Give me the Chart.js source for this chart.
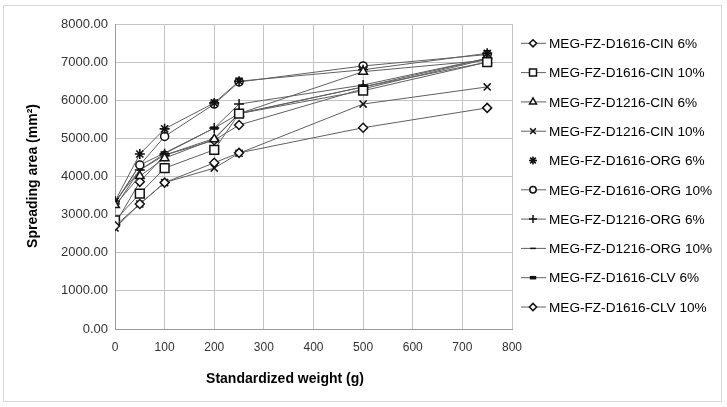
<!DOCTYPE html>
<html lang="en">
  <head>
    <meta charset="UTF-8" />
    <script src="https://cdn.jsdelivr.net/npm/chart.js"></script>
    <style>
      body { margin: 0; background: #fff; }
      #box {
        position: absolute; left: 3px; top: 5px;
        width: 717px; height: 395px;
        border: 1px solid #d9d9d9;
      }
    </style>
  </head>
  <body>
    <div id="box"><canvas id="spreadChart" width="717" height="395"></canvas></div>

    <script>
      // Standardized weight (g)
      const weights = [0, 50, 100, 200, 250, 500, 750];

      // Spreading area (mm²)
      const d1616Cin6 = [2700, 3280, 3840, 4360, 4620, 5280, 5800];
      const d1616Cin10 = [2850, 3550, 4220, 4700, 5650, 6250, 7000];
      const d1216Cin6 = [3250, 4010, 4480, 4980, 5650, 6750, 7050];
      const d1216Cin10 = [2650, 3280, 3840, 4220, 4610, 5900, 6350];
      const d1616Org6 = [3350, 4590, 5250, 5930, 6500, 6800, 7230];
      const d1616Org10 = [3300, 4300, 5050, 5900, 6480, 6900, 7200];
      const d1216Org6 = [3350, 4170, 4600, 5270, 5900, 6400, 7100];
      const d1216Org10 = [3200, 4170, 4560, 5000, 5650, 6350, 7100];
      const d1616Clv6 = [3300, 4300, 4620, 5270, 5650, 6350, 7000];
      const d1616Clv10 = [2750, 3860, 4560, 4950, 5350, 6300, 7080];

      const seriesNames = [
        "MEG-FZ-D1616-CIN 6%",
        "MEG-FZ-D1616-CIN 10%",
        "MEG-FZ-D1216-CIN 6%",
        "MEG-FZ-D1216-CIN 10%",
        "MEG-FZ-D1616-ORG 6%",
        "MEG-FZ-D1616-ORG 10%",
        "MEG-FZ-D1216-ORG 6%",
        "MEG-FZ-D1216-ORG 10%",
        "MEG-FZ-D1616-CLV 6%",
        "MEG-FZ-D1616-CLV 10%",
      ];
      const seriesValues = [
        d1616Cin6, d1616Cin10, d1216Cin6, d1216Cin10, d1616Org6,
        d1616Org10, d1216Org6, d1216Org10, d1616Clv6, d1616Clv10,
      ];

      const yTicks = [0, 1000, 2000, 3000, 4000, 5000, 6000, 7000, 8000];
      const xTicks = [0, 100, 200, 300, 400, 500, 600, 700, 800];

      // marker look per series
      const markers = [
        { style: "rectRot", r: 4.5, w: 1.5 },
        { style: "rect", r: 6.2, w: 1.5 },
        { style: "triangle", r: 5, w: 1.5 },
        { style: "crossRot", r: 5, w: 1.5 },
        { style: "star", r: 5, w: 1.6 },
        { style: "circle", r: 4, w: 1.5 },
        { style: "cross", r: 5, w: 1.5 },
        { style: "line", r: 3.5, w: 1.5 },
        { style: "line", r: 4, w: 3.5 },
        { style: "rectRot", r: 4.5, w: 1.5 },
      ];

      const datasets = seriesNames.map((name, i) => ({
        label: name,
        data: weights.map((w, k) => ({ x: w, y: seriesValues[i][k] })),
        showLine: true,
        borderColor: "#606060",
        borderWidth: 1,
        pointStyle: markers[i].style,
        pointRadius: markers[i].r,
        pointBorderWidth: markers[i].w,
        pointBorderColor: "#111",
        pointBackgroundColor: "#fff",
        pointHoverRadius: markers[i].r,
      }));

      // legend and axis titles drawn by hand
      const extras = {
        id: "extras",
        afterDraw(chart) {
          const c = chart.ctx;
          c.save();
          c.fillStyle = "#000";
          c.font = "bold 14px 'Liberation Sans', Arial, sans-serif";
          c.textAlign = "center";
          c.textBaseline = "middle";
          c.fillText("Standardized weight (g)", 281, 373);
          c.translate(29, 170);
          c.rotate(-Math.PI / 2);
          c.fillText("Spreading area (mm²)", 0, 0);
          c.restore();

          c.save();
          c.font = "13.6px 'Liberation Sans', Arial, sans-serif";
          c.textBaseline = "middle";
          chart.data.datasets.forEach((ds, i) => {
            const y = 37.3 + i * 29.3;
            if (i !== 4) {
              c.strokeStyle = "#606060";
              c.lineWidth = 1;
              c.beginPath();
              c.moveTo(517, y);
              c.lineTo(542, y);
              c.stroke();
            }
            c.strokeStyle = "#111";
            c.fillStyle = "#fff";
            c.lineWidth = markers[i].w;
            Chart.helpers.drawPoint(c, { pointStyle: markers[i].style, radius: markers[i].r * 0.8, rotation: 0, borderWidth: markers[i].w }, 529, y);
            c.fillStyle = "#000";
            c.fillText(ds.label, 545, y + 1);
          });
          c.restore();
        },
      };

      const ctx = document.getElementById("spreadChart").getContext("2d");
      const chart = new Chart(ctx, {
        type: "scatter",
        data: { datasets: datasets },
        options: {
          responsive: false,
          animation: false,
          layout: { padding: { top: 18, right: 209, left: 0, bottom: 0 } },
          plugins: { legend: { display: false }, tooltip: { enabled: false } },
          scales: {
            x: {
              type: "linear",
              min: 0,
              max: 800,
              afterFit: (s) => { s.height = 72; },
              afterBuildTicks: (s) => { s.ticks = xTicks.map((v) => ({ value: v })); },
              grid: { color: "#c4c4c4", drawTicks: false },
              border: { color: "#9a9a9a" },
              ticks: {
                padding: 11,
                color: "#333",
                font: { family: "'Liberation Sans', Arial", size: 12 },
              },
            },
            y: {
              min: 0,
              max: 8000,
              afterFit: (s) => { s.width = 111; },
              afterBuildTicks: (s) => { s.ticks = yTicks.map((v) => ({ value: v })); },
              grid: { color: "#c4c4c4", drawTicks: false },
              border: { color: "#9a9a9a" },
              ticks: {
                padding: 7,
                color: "#333",
                font: { family: "'Liberation Sans', Arial", size: 13 },
                callback: (v) => v.toFixed(2),
              },
            },
          },
        },
        plugins: [extras],
      });
    </script>
  </body>
</html>
